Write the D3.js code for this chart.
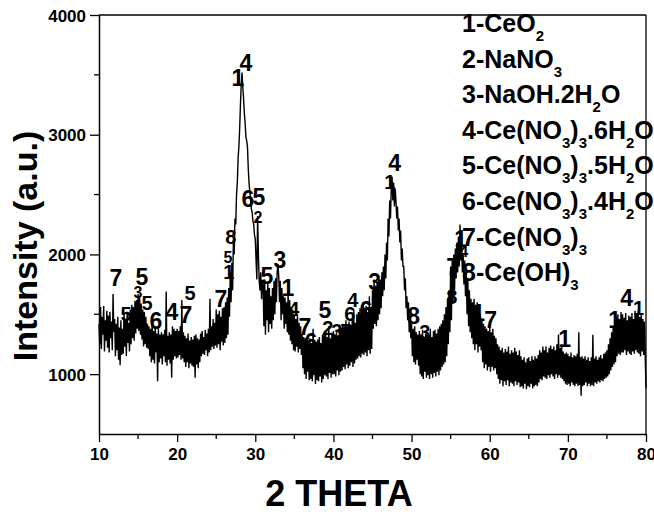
<!DOCTYPE html>
<html>
<head>
<meta charset="utf-8">
<script src="https://cdn.jsdelivr.net/npm/d3@7"></script>
<style>
  html, body { margin: 0; padding: 0; background: #fff; }
  svg { display: block; }
  text { font-family: "Liberation Sans", Arial, Helvetica, sans-serif; fill: #000; }
</style>
</head>
<body>
<svg id="chart" width="654" height="516"></svg>
<script>
// XRD scan: first angle, step (degrees 2θ) and counts per step
const scanStart = 10;
const scanStep = 0.1;
const counts = [
  // 10°
  1420,1250,1560,1210,1480,1330,1570,1190,1450,1280,
  // 11°
  1530,1220,1490,1180,1520,1300,1440,1200,1670,1350,
  // 12°
  1460,1150,1420,1200,1480,1120,1390,1075,1450,1160,
  // 13°
  1380,1170,1510,1230,1460,1150,1520,1260,1430,1190,
  // 14°
  1540,1250,1580,1300,1560,1280,1610,1340,1620,1380,
  // 15°
  1670,1360,1640,1330,1590,1290,1540,1230,1520,1250,
  // 16°
  1480,1220,1420,1210,1400,1150,1380,1100,1420,1120,
  // 17°
  1360,1090,1400,1180,1340,940,1380,1100,1330,1130,
  // 18°
  1350,1080,1330,1150,1370,1100,1690,1070,1320,1120,
  // 19°
  1350,1090,1330,970,1400,1120,1380,1150,1360,1130,
  // 20°
  1380,1140,1360,1160,1400,1120,1620,1130,1350,1100,
  // 21°
  1320,1060,1300,1100,1340,1050,1280,1090,1310,1070,
  // 22°
  1290,1060,1320,970,1330,1080,1300,1050,1290,1100,
  // 23°
  1340,1150,1360,1170,1310,1160,1370,1200,1340,1150,
  // 24°
  1380,1180,1630,1200,1400,1230,1460,1210,1430,1240,
  // 25°
  1540,1220,1500,1250,1530,1200,1480,1270,1550,1240,
  // 26°
  1560,1260,1600,1300,1640,1330,1720,1480,1850,1600,
  // 27°
  1930,1700,2125,2000,2300,2250,2500,2600,2800,2900,
  // 28°
  3050,3250,3420,3520,3400,3300,3180,3100,2980,2950,
  // 29°
  2900,2720,2600,2520,2460,2380,2350,2280,2250,2160,
  // 30°
  2130,1950,1790,2320,2000,1780,1700,1850,1625,1780,
  // 31°
  1750,1400,1790,1330,1700,1450,1760,1350,1720,1420,
  // 32°
  1650,1380,1720,1450,1780,1500,1800,1600,1850,1920,
  // 33°
  1820,1600,1780,1450,1720,1500,1650,1380,1640,1420,
  // 34°
  1600,1350,1680,1330,1620,1280,1560,1250,1540,1200,
  // 35°
  1500,1190,1460,1230,1500,1180,1430,1210,1400,1160,
  // 36°
  1340,1050,1310,1000,1300,960,1280,1020,1260,950,
  // 37°
  1300,960,1260,940,1380,990,1250,917,1270,950,
  // 38°
  1290,940,1310,980,1260,930,1330,960,1340,990,
  // 39°
  1340,980,1310,960,1400,1010,1300,970,1340,1000,
  // 40°
  1360,1000,1330,980,1350,1030,1310,990,1380,1020,
  // 41°
  1390,1030,1420,1060,1400,1040,1450,1080,1400,1050,
  // 42°
  1440,1070,1410,1100,1450,1060,1540,1090,1430,1120,
  // 43°
  1500,1130,1520,1150,1550,1140,1510,1170,1600,1160,
  // 44°
  1540,1180,1570,1150,1520,1200,1650,1170,1560,1210,
  // 45°
  1700,1380,1790,1420,1740,1400,1760,1450,1800,1500,
  // 46°
  1790,1550,1850,1650,1900,1700,2000,1800,2100,1950,
  // 47°
  2300,2150,2450,2300,2550,2650,2450,2600,2400,2550,
  // 48°
  2450,2300,2400,2200,2300,2100,2200,1950,2050,1900,
  // 49°
  1900,1700,1800,1550,1650,1450,1600,1350,1500,1300,
  // 50°
  1420,1150,1380,1100,1400,1080,1350,1120,1330,1070,
  // 51°
  1360,1000,1330,980,1370,960,1300,1020,1340,970,
  // 52°
  1350,990,1320,960,1380,1000,1310,970,1360,1010,
  // 53°
  1370,980,1340,1020,1380,990,1400,1030,1420,1060,
  // 54°
  1450,1080,1500,1100,1560,1150,1620,1250,1700,1350,
  // 55°
  1900,1450,1950,1600,2000,1700,2050,1800,2100,1850,
  // 56°
  2150,1900,2250,1950,2100,1850,2000,1750,1950,1650,
  // 57°
  1850,1500,1800,1400,1700,1350,1630,1300,1600,1250,
  // 58°
  1630,1200,1580,1250,1600,1180,1550,1230,1500,1200,
  // 59°
  1450,1100,1420,1050,1400,1080,1380,1030,1360,1060,
  // 60°
  1400,1020,1350,1060,1380,1030,1320,1050,1300,1000,
  // 61°
  1250,960,1230,920,1200,950,1220,900,1180,940,
  // 62°
  1210,910,1190,950,1230,900,1170,930,1200,920,
  // 63°
  1180,900,1220,940,1190,910,1160,930,1200,890,
  // 64°
  1150,900,1120,880,1140,920,1100,875,1130,900,
  // 65°
  1140,890,1110,920,1150,880,1120,900,1150,910,
  // 66°
  1130,900,1160,930,1200,960,1180,950,1230,980,
  // 67°
  1200,970,1230,960,1180,990,1220,970,1240,1000,
  // 68°
  1210,980,1230,960,1200,1000,1250,970,1330,990,
  // 69°
  1220,970,1250,960,1190,940,1170,920,1180,910,
  // 70°
  1170,920,1150,900,1180,930,1140,910,1160,900,
  // 71°
  1150,920,1170,900,1350,910,1140,820,1150,900,
  // 72°
  1130,910,1150,930,1120,900,1140,920,1110,900,
  // 73°
  1140,910,1330,900,1130,930,1150,920,1120,940,
  // 74°
  1140,930,1160,950,1130,940,1170,960,1180,970,
  // 75°
  1200,980,1250,1000,1300,1030,1350,1060,1400,1080,
  // 76°
  1430,1100,1480,1150,1500,1170,1460,1160,1520,1180,
  // 77°
  1500,1180,1470,1200,1510,1160,1450,1190,1490,1170,
  // 78°
  1480,1160,1510,1190,1460,1170,1530,1200,1500,1180,
  // 79°
  1530,1170,1480,1150,1510,1190,1460,1160,1440,1150,
  // 80°
  880
];

// Axis ticks
const xTicks = [10, 20, 30, 40, 50, 60, 70, 80];
const xMinorTicks = [15, 25, 35, 45, 55, 65, 75];
const yTicks = [1000, 2000, 3000, 4000];
const yMinorTicks = [1500, 2500, 3500];

// Phase identification marks: [phase number, 2θ, intensity]
const phaseMarks = [
  ["7", 12.17, 1808], ["5", 15.50, 1817], ["3", 14.99, 1683], ["5", 16.14, 1600],
  ["5", 13.45, 1508], ["6", 17.29, 1450], ["4", 19.34, 1525], ["7", 21.13, 1500],
  ["5", 21.64, 1683], ["7", 25.60, 1633], ["1", 26.62, 1858], ["5", 26.50, 1975],
  ["8", 26.88, 2150], ["1", 27.77, 3475], ["4", 28.80, 3600], ["6", 29.05, 2467],
  ["5", 30.46, 2483], ["2", 30.33, 2308], ["5", 31.48, 1825], ["3", 33.15, 1958],
  ["1", 34.17, 1725], ["4", 34.94, 1550], ["7", 36.34, 1400], ["6", 37.11, 1275],
  ["5", 38.90, 1542], ["2", 39.28, 1383], ["3", 40.43, 1358], ["7", 41.59, 1358],
  ["6", 42.10, 1508], ["4", 42.48, 1625], ["6", 44.14, 1542], ["3", 45.29, 1775],
  ["4", 47.85, 2767], ["1", 47.21, 2608], ["8", 50.28, 1492], ["3", 51.69, 1350],
  ["1", 56.29, 2133], ["4", 56.68, 2025], ["7", 55.27, 1900], ["8", 55.14, 1642],
  ["1", 58.59, 1517], ["7", 60.13, 1458], ["1", 69.59, 1292], ["1", 75.98, 1458],
  ["4", 77.52, 1642], ["1", 79.05, 1558]
];

// Phase key; {n} marks a subscript
const phaseKey = [
  "1-CeO{2}",
  "2-NaNO{3}",
  "3-NaOH.2H{2}O",
  "4-Ce(NO{3}){3}.6H{2}O",
  "5-Ce(NO{3}){3}.5H{2}O",
  "6-Ce(NO{3}){3}.4H{2}O",
  "7-Ce(NO{3}){3}",
  "8-Ce(OH){3}"
];

const xTitle = "2 THETA";
const yTitle = "Intensity (a.u.)";

// ---------- drawing ----------
const svg = d3.select("#chart");
const plot = { left: 99, right: 646, top: 15, bottom: 434 };

const x = d3.scaleLinear().domain([10, 80]).range([plot.left, plot.right]);
const y = d3.scaleLinear().domain([500, 4000]).range([plot.bottom, plot.top]);

svg.append("rect").attr("width", 654).attr("height", 516).attr("fill", "#fff");

// diffraction pattern
const points = counts.map((c, i) => [scanStart + i * scanStep, c]);
svg.append("path")
  .datum(points)
  .attr("fill", "none")
  .attr("stroke", "#000")
  .attr("stroke-width", 1.4)
  .attr("stroke-linejoin", "miter")
  .attr("d", d3.line().x(d => x(d[0])).y(d => y(d[1])));

// frame (top and right)
svg.append("line").attr("x1", plot.left).attr("x2", plot.right)
  .attr("y1", plot.top).attr("y2", plot.top)
  .attr("stroke", "#000").attr("stroke-width", 1.3);
svg.append("line").attr("x1", plot.right).attr("x2", plot.right)
  .attr("y1", plot.top).attr("y2", plot.bottom)
  .attr("stroke", "#000").attr("stroke-width", 1.3);

// bottom axis
const gx = svg.append("g").attr("transform", `translate(0,${plot.bottom})`);
gx.call(d3.axisBottom(x).tickValues(xTicks).tickSize(8).tickSizeOuter(0).tickPadding(6));
gx.append("g").selectAll("line").data(xMinorTicks).join("line")
  .attr("x1", d => x(d)).attr("x2", d => x(d)).attr("y1", 0).attr("y2", 5)
  .attr("stroke", "#000").attr("stroke-width", 1.3);

// left axis
const gy = svg.append("g").attr("transform", `translate(${plot.left},0)`);
gy.call(d3.axisLeft(y).tickValues(yTicks).tickSize(9).tickSizeOuter(0).tickPadding(4).tickFormat(d3.format("d")));
gy.append("g").selectAll("line").data(yMinorTicks).join("line")
  .attr("x1", 0).attr("x2", -5).attr("y1", d => y(d)).attr("y2", d => y(d))
  .attr("stroke", "#000").attr("stroke-width", 1.3);

[gx, gy].forEach(g => {
  g.select(".domain").attr("stroke", "#000").attr("stroke-width", 1.5);
  g.selectAll(".tick line").attr("stroke", "#000").attr("stroke-width", 1.3);
  g.selectAll(".tick text")
    .attr("font-family", "'Liberation Sans', Arial, sans-serif")
    .attr("font-size", 17).attr("font-weight", "bold").attr("fill", "#000");
});
gy.selectAll(".tick text").attr("dy", "0.36em");

// axis titles
svg.append("text")
  .attr("x", 339).attr("y", 506)
  .attr("text-anchor", "middle")
  .attr("font-size", 36).attr("font-weight", "bold")
  .text(xTitle);
svg.append("text")
  .attr("transform", "translate(37,246) rotate(-90)")
  .attr("text-anchor", "middle")
  .attr("font-size", 34).attr("font-weight", "bold")
  .text(yTitle);

// phase marks over the reflections
const smallMarks = new Set([2, 11, 17, 37]);
const midMarks = new Set([3, 4, 8, 10, 12, 21, 25, 26, 27, 28, 29, 33, 35, 39, 45]);
const markSize = i => smallMarks.has(i) ? 16 : midMarks.has(i) ? 20 : 23;
svg.append("g").selectAll("text").data(phaseMarks).join("text")
  .attr("text-anchor", "middle")
  .attr("font-weight", "bold")
  .attr("font-size", (d, i) => markSize(i))
  .attr("x", d => x(d[1]))
  .attr("y", (d, i) => y(d[2]) + 0.36 * markSize(i))
  .text(d => d[0]);

// phase key with subscripts
const key = svg.append("g");
phaseKey.forEach((entry, i) => {
  const t = key.append("text")
    .attr("x", 462).attr("y", 32 + i * 35.6)
    .attr("font-size", 25).attr("font-weight", "bold");
  const parts = entry.split(/(\{\d+\})/).filter(s => s.length);
  let shifted = false;
  parts.forEach(p => {
    const sub = p.startsWith("{");
    const span = t.append("tspan").text(sub ? p.slice(1, -1) : p);
    if (sub) {
      span.attr("font-size", 15).attr("dy", shifted ? 0 : 9);
      shifted = true;
    } else if (shifted) {
      span.attr("dy", -9);
      shifted = false;
    }
  });
});
</script>
</body>
</html>
